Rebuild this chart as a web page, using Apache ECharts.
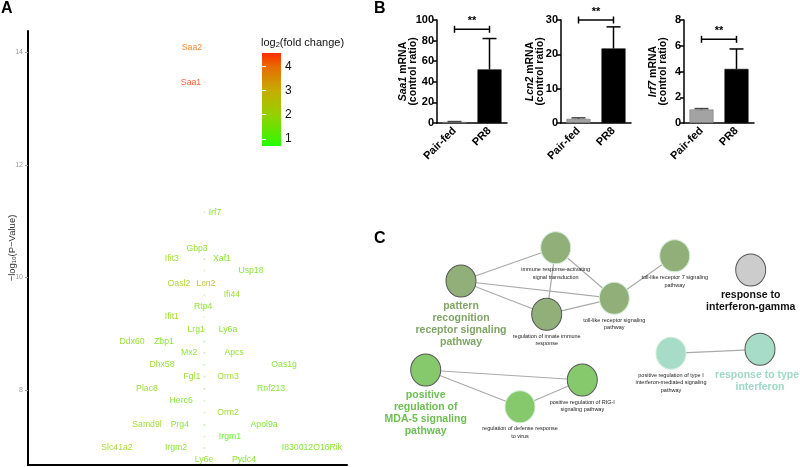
<!DOCTYPE html>
<html><head><meta charset="utf-8">
<script src="https://cdn.jsdelivr.net/npm/echarts@6/dist/echarts.min.js"></script>
<style>html,body{margin:0;padding:0;background:#fff}#c{width:800px;height:467px}</style>
</head><body><div id="c"></div>
<script>
// ---------------- Panel A: volcano labels ----------------
const genes = ['Saa2','Saa1','Irf7','Gbp3','Ifit3','Xaf1','Usp18','Oasl2','Lcn2','Ifi44','Rtp4','Ifit1','Lrg1','Ly6a','Ddx60','Zbp1','Mx2','Apcs','Dhx58','Oas1g','Fgl1','Orm3','Plac8','Rnf213','Herc6','Orm2','Samd9l','Prg4','Apol9a','Irgm1','Slc41a2','Irgm2','I830012O16Rik','Ly6e','Pydc4'];
// horizontal position of each label on the hidden x scale (0-100)
const geneLabelX = [51.4,51.1,58.6,53.0,45.1,60.8,69.9,47.3,55.8,63.9,54.9,45.1,52.7,62.7,32.6,42.6,50.5,64.6,42.0,80.3,51.4,62.7,37.3,76.2,48.0,62.7,37.3,47.6,74.0,63.3,27.9,46.4,89.0,55.2,67.7];
const geneNegLogP = [14.08,13.47,11.16,10.52,10.33,10.33,10.12,9.90,9.90,9.69,9.48,9.30,9.07,9.07,8.86,8.86,8.66,8.66,8.45,8.45,8.24,8.24,8.02,8.02,7.81,7.60,7.38,7.38,7.38,7.17,6.97,6.97,6.97,6.76,6.76];
const geneLog2FC = [4.0,4.5,1.5,1.6,1.9,1.5,1.5,2.0,2.9,1.7,1.6,1.8,1.6,1.5,1.6,1.5,1.6,1.7,1.7,1.5,1.6,1.9,1.8,1.4,1.5,1.8,1.9,1.6,1.4,1.1,2.0,1.5,1.4,1.6,1.5];
const genePointX = 55.3; // all points sit on one vertical in the source plot
const volcanoYTicks = [8,10,12,14];
const volcanoYMin = 6.669, volcanoYMax = 14.378;
// fold-change colour scale
const fcScaleValues = [0.7, 1, 2, 3, 4, 4.55];
const fcScaleColors = ['#22ff00','#44f000','#96d000','#c6ac00','#e86a00','#ff2c00'];
const fcTicks = [1,2,3,4];

// ---------------- Panel B: qPCR bars ----------------
const groups = ['Pair-fed','PR8'];
const saa1Mean = [1.0, 52.0], saa1Sem = [0.4, 30.0], saa1Bracket = 91;
const lcn2Mean = [1.2, 21.7], lcn2Sem = [0.3, 6.3], lcn2Bracket = 30;
const irf7Mean = [1.05, 4.2], irf7Sem = [0.07, 1.55], irf7Bracket = 6.5;
const saa1Ticks = {min:0,max:100,interval:20};
const lcn2Ticks = {min:0,max:30,interval:10};
const irf7Ticks = {min:0,max:8,interval:2};

// ---------------- Panel C: network ----------------
const nodeLabels = [
 'immune response-activating\nsignal transduction',
 'pattern\nrecognition\nreceptor signaling\npathway',
 'regulation of innate immune\nresponse',
 'toll-like receptor signaling\npathway',
 'toll-like receptor 7 signaling\npathway',
 'response to\ninterferon-gamma',
 'positive\nregulation of\nMDA-5 signaling\npathway',
 'positive regulation of RIG-I\nsignaling pathway',
 'regulation of defense response\nto virus',
 'positive regulation of type I\ninterferon-mediated signaling\npathway',
 'response to type I\ninterferon'
];
const nodeX = [195.7,101,186.7,254.3,314.7,390.7,65.7,222.3,160,311,400];
const nodeY = [219.3,186,152.7,168.7,211.3,197,97,87,60.3,113.7,117.7];
const nodeGroup = [0,0,0,0,0,3,1,1,1,2,2];
const nodeLeading = [0,1,1,0,0,1,1,1,0,0,1]; // drawn with a dark outline
const nodeHeadline = [0,1,0,0,0,1,1,0,0,0,1]; // group term shown in large text
const edges = [[1,0],[1,3],[1,2],[0,2],[0,3],[2,3],[3,4],[6,7],[6,8],[8,7],[9,10]];
const groupNodeColor = ['#91af79','#86c86c','#a6dcc8','#cccccc'];
const groupTextColor = ['#7fa465','#6cbf52','#9ed8c4','#111111'];

// ---------------- helpers ----------------
const FONT = '"Liberation Sans", Arial, sans-serif';
function hexToRgb(h){h=h.replace('#','');return [0,2,4].map(i=>parseInt(h.substr(i,2),16));}
function fcColor(v){
  const vs=fcScaleValues, cs=fcScaleColors.map(hexToRgb);
  if(v<=vs[0]) return fcScaleColors[0];
  if(v>=vs[vs.length-1]) return fcScaleColors[vs.length-1];
  for(let i=0;i<vs.length-1;i++){
    if(v>=vs[i]&&v<=vs[i+1]){
      const t=(v-vs[i])/(vs[i+1]-vs[i]);
      const c=cs[i].map((a,k)=>Math.round(a+(cs[i+1][k]-a)*t));
      return 'rgb('+c.join(',')+')';
    }
  }
}
const fcMin=fcScaleValues[0], fcMax=fcScaleValues[fcScaleValues.length-1];

const chart = echarts.init(document.getElementById('c'));

function barAxes(gridIndex){
  return {
    type:'category', gridIndex, data:groups,
    axisLine:{lineStyle:{color:'#000',width:1.5}},
    axisTick:{alignWithLabel:true,length:4,lineStyle:{color:'#000',width:1.5}},
    axisLabel:{rotate:45,fontSize:11,fontWeight:'bold',color:'#000',fontFamily:FONT,margin:6,interval:0}
  };
}
function barY(gridIndex, ticks, gene, gap){
  return {
    type:'value', gridIndex, min:ticks.min, max:ticks.max, interval:ticks.interval,
    splitLine:{show:false},
    axisLine:{show:true,lineStyle:{color:'#000',width:1.5}},
    axisTick:{show:true,length:4,lineStyle:{color:'#000',width:1.5}},
    axisLabel:{fontSize:11,fontWeight:'bold',color:'#000',fontFamily:FONT,margin:3},
    name:'{i|'+gene+'} mRNA\n(control ratio)', nameLocation:'middle', nameRotate:90,
    nameGap:gap, nameMoveOverlap:false,
    nameTextStyle:{fontSize:10.5,fontWeight:'bold',color:'#000',fontFamily:FONT,lineHeight:10,
      rich:{i:{fontStyle:'italic',fontWeight:'bold',fontSize:10.5,fontFamily:FONT,color:'#000'}}}
  };
}
function barSeries(idx, mean, sem, bracket){
  const bars = {
    type:'bar', xAxisIndex:idx, yAxisIndex:idx+1, barWidth:24, silent:true,
    data: mean.map((m,i)=>({value:m,itemStyle:{color:i===0?'#a3a3a3':'#000',borderColor:i===0?'#777':'#000',borderWidth:0.6}}))
  };
  const err = {
    type:'custom', xAxisIndex:idx, yAxisIndex:idx+1, silent:true, z:3,
    data: mean.map((m,i)=>[i,m,m+sem[i]]),
    renderItem:(p,api)=>{
      const a=api.coord([api.value(0),api.value(1)]), b=api.coord([api.value(0),api.value(2)]);
      const st={stroke:api.value(0)===0?'#444':'#000',lineWidth:1.5};
      return {type:'group',children:[
        {type:'line',shape:{x1:a[0],y1:a[1],x2:b[0],y2:b[1]},style:st},
        {type:'line',shape:{x1:b[0]-7,y1:b[1],x2:b[0]+7,y2:b[1]},style:st}
      ]};
    }
  };
  const br = {
    type:'custom', xAxisIndex:idx, yAxisIndex:idx+1, silent:true, z:3, clip:false,
    data:[[0,1,bracket]],
    renderItem:(p,api)=>{
      const a=api.coord([api.value(0),api.value(2)]), b=api.coord([api.value(1),api.value(2)]);
      const st={stroke:'#000',lineWidth:1.5};
      return {type:'group',children:[
        {type:'line',shape:{x1:a[0],y1:a[1],x2:b[0],y2:b[1]},style:st},
        {type:'line',shape:{x1:a[0],y1:a[1]-3.5,x2:a[0],y2:a[1]+3.5},style:st},
        {type:'line',shape:{x1:b[0],y1:b[1]-3.5,x2:b[0],y2:b[1]+3.5},style:st},
        {type:'text',style:{text:'**',x:(a[0]+b[0])/2,y:a[1]-3,align:'center',verticalAlign:'bottom',font:'bold 11px '+FONT,fill:'#000'}}
      ]};
    }
  };
  return [bars, err, br];
}

const gradStops = fcScaleValues.map((v,i)=>({offset:(v-fcMin)/(fcMax-fcMin),color:fcScaleColors[i]}));

const option = {
  animation:false,
  title:[
    {text:'A',left:1,top:1,padding:0,textStyle:{fontSize:16,fontWeight:'bold',color:'#000',fontFamily:FONT}},
    {text:'B',left:374,top:1,padding:0,textStyle:{fontSize:16,fontWeight:'bold',color:'#000',fontFamily:FONT}},
    {text:'C',left:374,top:231,padding:0,textStyle:{fontSize:16,fontWeight:'bold',color:'#000',fontFamily:FONT}},
    {text:'log{s|2}(fold change)',left:261,top:36,padding:0,
      textStyle:{fontSize:11,fontWeight:'normal',color:'#111',fontFamily:FONT,
        rich:{s:{fontSize:7.5,fontFamily:FONT,color:'#111',padding:[5,0,0,0]}}}}
  ],
  grid:[
    {left:28,top:31,width:319,height:434},
    {left:262,top:53,width:19,height:93},
    {left:437,top:20,width:70,height:103},
    {left:561,top:20,width:70,height:103},
    {left:684,top:20,width:70,height:103},
    {left:360,top:220,width:440,height:247}
  ],
  xAxis:[
    {type:'value',gridIndex:0,min:0,max:100,splitLine:{show:false},axisTick:{show:false},axisLabel:{show:false},
      axisLine:{show:true,onZero:false,lineStyle:{color:'#000',width:2}}},
    {type:'value',gridIndex:1,min:0,max:1,show:false},
    barAxes(2), barAxes(3), barAxes(4),
    {type:'value',gridIndex:5,min:0,max:440,show:false}
  ],
  yAxis:[
    {type:'value',gridIndex:0,min:volcanoYMin,max:volcanoYMax,splitLine:{show:false},
      axisLine:{show:true,lineStyle:{color:'#000',width:2}},
      axisTick:{show:true,length:3,customValues:volcanoYTicks,lineStyle:{color:'#999',width:1}},
      axisLabel:{customValues:volcanoYTicks,fontSize:7,color:'#999',fontFamily:FONT,margin:5},
      name:'−log{s|10}(P−Value)',nameLocation:'middle',nameRotate:90,nameGap:11,nameMoveOverlap:false,
      nameTextStyle:{fontSize:9.5,color:'#333',fontFamily:FONT,rich:{s:{fontSize:6,color:'#333',fontFamily:FONT,padding:[4,0,0,0]}}}},
    {type:'value',gridIndex:1,min:fcMin,max:fcMax,position:'right',z:5,splitLine:{show:false},
      axisLine:{show:false},
      axisTick:{show:true,inside:true,length:4,customValues:fcTicks,lineStyle:{color:'#fff',width:1}},
      axisLabel:{customValues:fcTicks,fontSize:12,color:'#111',fontFamily:FONT,margin:4}},
    {type:'value',gridIndex:1,min:fcMin,max:fcMax,position:'left',z:5,splitLine:{show:false},
      axisLine:{show:false},axisLabel:{show:false},
      axisTick:{show:true,inside:true,length:4,customValues:fcTicks,lineStyle:{color:'#fff',width:1}}},
    barY(2,saa1Ticks,'Saa1',19), barY(3,lcn2Ticks,'Lcn2',16), barY(4,irf7Ticks,'Irf7',16),
    {type:'value',gridIndex:5,min:0,max:247,show:false}
  ],
  series:[
    {type:'scatter',xAxisIndex:0,yAxisIndex:0,silent:true,symbolSize:2,
      itemStyle:{color:'#d6efc6'},data:geneNegLogP.map(y=>[genePointX,y])},
    {type:'scatter',xAxisIndex:0,yAxisIndex:0,silent:true,symbolSize:1,z:4,
      itemStyle:{color:'transparent'},
      label:{show:true,position:'inside',formatter:'{b}',fontSize:8.7,fontFamily:FONT},
      data:genes.map((g,i)=>({name:g,value:[geneLabelX[i],geneNegLogP[i]],label:{color:fcColor(geneLog2FC[i])}}))},
    {type:'custom',xAxisIndex:1,yAxisIndex:1,silent:true,data:[[0,fcMin,fcMax]],
      renderItem:(p,api)=>{
        const cs=p.coordSys;
        const top=api.coord([0,api.value(2)])[1], bot=api.coord([0,api.value(1)])[1];
        return {type:'rect',shape:{x:cs.x,y:top,width:cs.width,height:bot-top},
          style:{fill:new echarts.graphic.LinearGradient(0,1,0,0,gradStops)}};
      }},
    ...barSeries(2,saa1Mean,saa1Sem,saa1Bracket),
    ...barSeries(3,lcn2Mean,lcn2Sem,lcn2Bracket),
    ...barSeries(4,irf7Mean,irf7Sem,irf7Bracket),
    {type:'graph',coordinateSystem:'cartesian2d',xAxisIndex:5,yAxisIndex:6,silent:true,z:3,
      symbol:'circle',symbolSize:[30,32],
      lineStyle:{color:'#aaa',width:1.2,opacity:1},
      data:nodeLabels.map((t,i)=>{
        const g=nodeGroup[i], big=nodeHeadline[i]===1;
        return {name:t,value:[nodeX[i],nodeY[i]],
          itemStyle:{color:groupNodeColor[g],borderColor:nodeLeading[i]?'#555':'#d4ecd8',borderWidth:1},
          label:big?{show:true,position:'bottom',distance:3,formatter:'{b}',fontSize:10.5,fontWeight:'bold',
                     color:groupTextColor[g],fontFamily:FONT,lineHeight:12,align:'center'}
                   :{show:true,position:'bottom',distance:2,formatter:'{b}',fontSize:5.5,
                     color:'#222',fontFamily:FONT,lineHeight:7.3,align:'center'}};
      }),
      links:edges.map(e=>({source:e[0],target:e[1]}))}
  ]
};
chart.setOption(option);
</script></body></html>
